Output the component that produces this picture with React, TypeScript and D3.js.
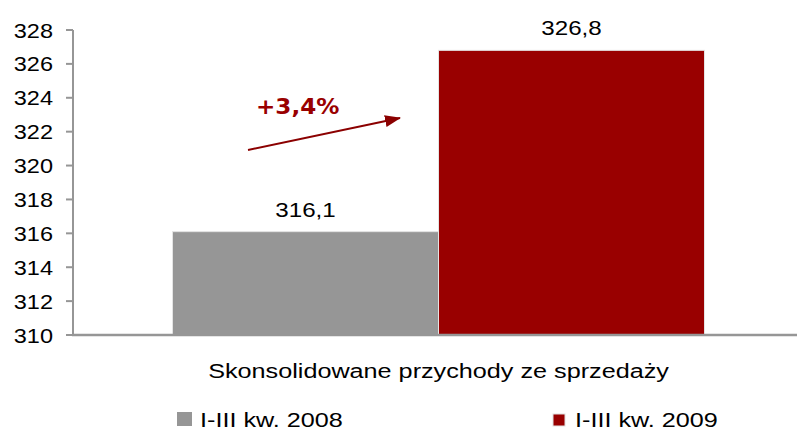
import React from "react";
import * as d3 from "d3";

const category = "Skonsolidowane przychody ze sprzedaży";
const seriesNames = ["I-III kw. 2008", "I-III kw. 2009"];
const seriesValues = [316.1, 326.8];
const seriesLabels = ["316,1", "326,8"];
const seriesColors = ["#969696", "#990000"];
const yTicks = [310, 312, 314, 316, 318, 320, 322, 324, 326, 328];
const changeLabel = "+3,4%";

const W = 797;
const H = 432;
const FONT = "'Liberation Sans', Arial, sans-serif";

function SText({ x, y, anchor = "start", size = 21, fill = "#000", weight = "normal", family = FONT, sx = 1.15, children }: any) {
  return (
    <text
      transform={`translate(${x},${y}) scale(${sx},1)`}
      textAnchor={anchor}
      fontSize={size}
      fill={fill}
      fontWeight={weight}
      fontFamily={family}
    >
      {children}
    </text>
  );
}

export default function App() {
  const left = 73;
  const right = 804;
  const y = d3.scaleLinear().domain([310, 328]).range([335, 30]);
  const xCat = d3.scaleBand().domain([category]).range([left, right]).paddingInner(0).paddingOuter(0);
  const cx = (xCat(category) as number) + xCat.bandwidth() / 2;
  const groupW = 532;
  const xSer = d3.scaleBand().domain(seriesNames).range([cx - groupW / 2, cx + groupW / 2]).padding(0);

  return (
    <svg width={W} height={H} style={{ position: "absolute", left: 0, top: 0, background: "#fff" }}>
      <defs>
        <marker id="arr" viewBox="0 0 16 12" refX="15" refY="6" markerWidth="16" markerHeight="12" orient="auto" markerUnits="userSpaceOnUse">
          <path d="M0,0 L16,6 L0,12 z" fill="#8b0000" />
        </marker>
      </defs>
      {/* bars */}
      {seriesNames.map((s, i) => (
        <rect
          key={s}
          x={xSer(s) as number}
          y={y(seriesValues[i])}
          width={xSer.bandwidth()}
          height={y(310) - y(seriesValues[i])}
          fill={seriesColors[i]}
          stroke="#e4e4e4"
          strokeWidth={1}
        />
      ))}
      {/* axes */}
      <line x1={left} x2={left} y1={y(328)} y2={y(310)} stroke="#969696" strokeWidth={2} />
      <line x1={left - 1} x2={W} y1={y(310)} y2={y(310)} stroke="#969696" strokeWidth={2.5} />
      {yTicks.map((t) => (
        <g key={t}>
          <line x1={left - 7} x2={left} y1={y(t)} y2={y(t)} stroke="#969696" strokeWidth={2} />
          <SText x={53} y={y(t) + 7.5} anchor="end" size={21} sx={1.12}>
            {t}
          </SText>
        </g>
      ))}
      {/* value labels */}
      {seriesNames.map((s, i) => (
        <SText key={s} x={(xSer(s) as number) + xSer.bandwidth() / 2} y={y(seriesValues[i]) - 15} anchor="middle" size={21} sx={1.15}>
          {seriesLabels[i]}
        </SText>
      ))}
      {/* change arrow */}
      <line x1={248} y1={150} x2={400} y2={118} stroke="#8b0000" strokeWidth={2} markerEnd="url(#arr)" />
      <SText x={256} y={114} size={21} weight="bold" fill="#990000" family="'DejaVu Sans', Verdana, sans-serif" sx={1.1}>
        {changeLabel}
      </SText>
      {/* category label */}
      <SText x={cx} y={378} anchor="middle" size={21} sx={1.2}>
        {category}
      </SText>
      {/* legend */}
      <rect x={177} y={412} width={15} height={14} fill={seriesColors[0]} />
      <SText x={200} y={427} size={21} sx={1.2}>
        {seriesNames[0]}
      </SText>
      <rect x={553} y={414} width={12} height={12} fill={seriesColors[1]} stroke="#e0e0e0" strokeWidth={1} />
      <SText x={575} y={427} size={21} sx={1.2}>
        {seriesNames[1]}
      </SText>
    </svg>
  );
}
